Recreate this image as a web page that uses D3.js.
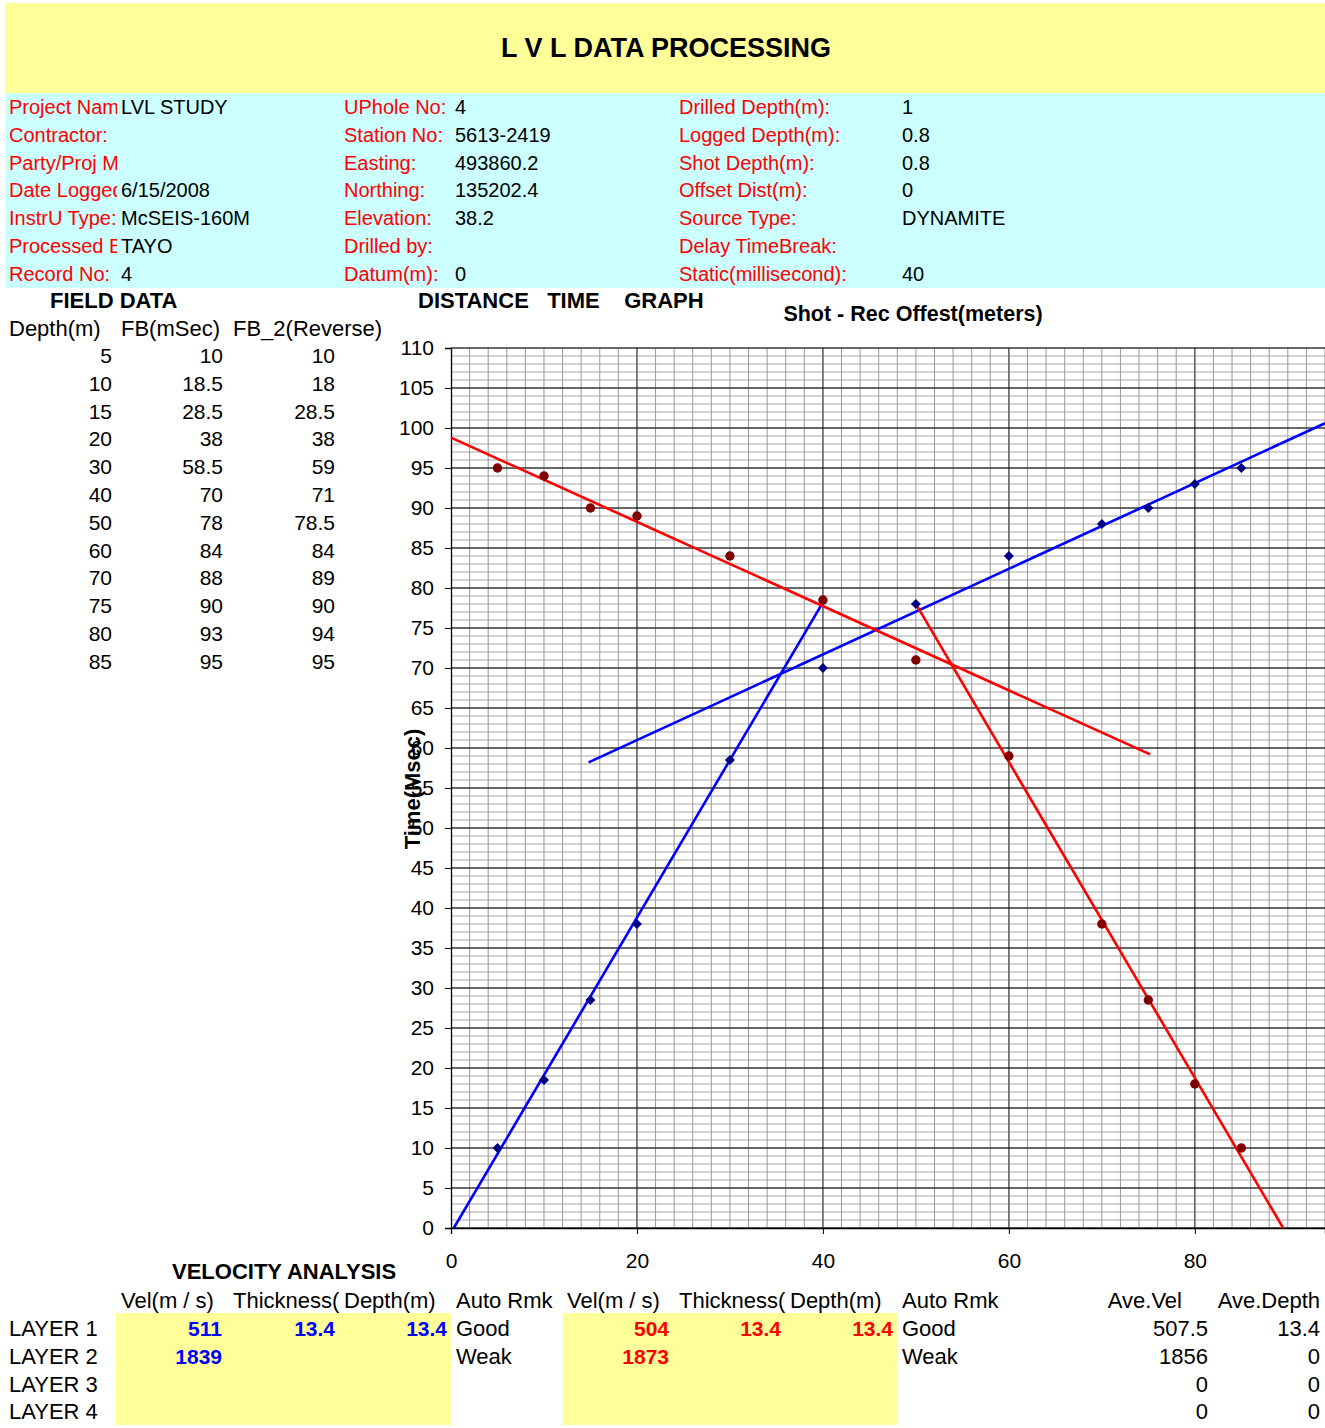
<!DOCTYPE html>
<meta charset="utf-8">
<title>L V L Data Processing</title>
<style>
  body { margin: 0; background: #fff; }
  text { font-family: "Liberation Sans", Arial, sans-serif; }
</style>
<body>
<script src="https://d3js.org/d3.v7.min.js"></script>
<div id="sheet"></div>
<script>
// ---- header info (label / value columns)
var infoLabels1 = ["Project Name:", "Contractor:", "Party/Proj Mgr:", "Date Logged:", "InstrU Type:", "Processed By:", "Record No:"];
var infoValues1 = ["LVL STUDY", "", "", "6/15/2008", "McSEIS-160M", "TAYO", "4"];
var infoLabels2 = ["UPhole No:", "Station No:", "Easting:", "Northing:", "Elevation:", "Drilled by:", "Datum(m):"];
var infoValues2 = ["4", "5613-2419", "493860.2", "135202.4", "38.2", "", "0"];
var infoLabels3 = ["Drilled Depth(m):", "Logged Depth(m):", "Shot Depth(m):", "Offset Dist(m):", "Source Type:", "Delay TimeBreak:", "Static(millisecond):"];
var infoValues3 = ["1", "0.8", "0.8", "0", "DYNAMITE", "", "40"];

// ---- field data
var depth = [5, 10, 15, 20, 30, 40, 50, 60, 70, 75, 80, 85];
var fb = [10, 18.5, 28.5, 38, 58.5, 70, 78, 84, 88, 90, 93, 95];
var fb2 = [10, 18, 28.5, 38, 59, 71, 78.5, 84, 89, 90, 94, 95];
// reverse shot offsets (spread 90 m)
var revOffset = [85, 80, 75, 70, 60, 50, 40, 30, 20, 15, 10, 5];

// ---- fitted lines [x, t]
var blueFit1 = [[0.3, 0], [40, 78.2]];
var blueFit2 = [[14.8, 58.2], [94, 100.6]];
var redFit1 = [[0, 98.8], [75.2, 59.2]];
var redFit2 = [[49.9, 78.2], [89.5, 0]];

// ---- axis ticks
var yTicks = d3.range(0, 111, 5);
var xTicks = [0, 20, 40, 60, 80];

// ---- velocity analysis
var layers = ["LAYER 1", "LAYER 2", "LAYER 3", "LAYER 4"];
var fwdVel = ["511", "1839", "", ""];
var fwdThick = ["13.4", "", "", ""];
var fwdDepth = ["13.4", "", "", ""];
var fwdRmk = ["Good", "Weak", "", ""];
var revVel = ["504", "1873", "", ""];
var revThick = ["13.4", "", "", ""];
var revDepth = ["13.4", "", "", ""];
var revRmk = ["Good", "Weak", "", ""];
var aveVel = ["507.5", "1856", "0", "0"];
var aveDepth = ["13.4", "0", "0", "0"];

var W = 1325, H = 1428, FS = 20, FL = 22;

var svg = d3.select("#sheet").append("svg")
    .attr("width", W).attr("height", H);

// bands
svg.append("rect").attr("x", 5).attr("y", 3).attr("width", W - 5).attr("height", 90).attr("fill", "#ffff99");
svg.append("rect").attr("x", 5).attr("y", 93).attr("width", W - 5).attr("height", 195).attr("fill", "#ccffff");

svg.append("text").attr("x", 666).attr("y", 57).attr("text-anchor", "middle")
  .attr("font-size", 27).attr("font-weight", "bold").text("L V L DATA PROCESSING");

// first label column is cut by the value column, as in the sheet
svg.append("defs").append("clipPath").attr("id", "lab1")
  .append("rect").attr("x", 0).attr("y", 90).attr("width", 117).attr("height", 200);

var rowY = function(i) { return 114 + i * 27.8; };
function infoCol(labels, values, lx, vx, clip) {
  var g = svg.append("g").attr("font-size", FS);
  var lg = g.append("g");
  if (clip) lg.attr("clip-path", "url(#lab1)");
  lg.selectAll("text").data(labels).enter().append("text")
    .attr("x", lx).attr("y", function(d, i) { return rowY(i); })
    .attr("fill", "#ff0000").text(function(d) { return d; });
  g.append("g").selectAll("text").data(values).enter().append("text")
    .attr("x", vx).attr("y", function(d, i) { return rowY(i); })
    .attr("fill", "#000").text(function(d) { return d; });
}
infoCol(infoLabels1, infoValues1, 9, 121, true);
infoCol(infoLabels2, infoValues2, 344, 455, false);
infoCol(infoLabels3, infoValues3, 679, 902, false);

// ---- field data table
svg.append("text").attr("x", 50).attr("y", 308).attr("font-size", FL).attr("font-weight", "bold").text("FIELD DATA");
svg.append("text").attr("x", 418).attr("y", 308).attr("font-size", FL).attr("font-weight", "bold")
  .style("white-space", "pre").text("DISTANCE   TIME    GRAPH");
var hdr = svg.append("g").attr("font-size", FL);
hdr.append("text").attr("x", 9).attr("y", 336).text("Depth(m)");
hdr.append("text").attr("x", 121).attr("y", 336).text("FB(mSec)");
hdr.append("text").attr("x", 233).attr("y", 336).text("FB_2(Reverse)");

var tbl = svg.append("g").attr("font-size", 21).attr("text-anchor", "end");
[[depth, 112], [fb, 223], [fb2, 335]].forEach(function(c) {
  tbl.append("g").selectAll("text").data(c[0]).enter().append("text")
    .attr("x", c[1]).attr("y", function(d, i) { return 363 + i * 27.8; })
    .text(function(d) { return d; });
});

// ---- graph
var x = d3.scaleLinear().domain([0, 94]).range([451, 1325]);
var y = d3.scaleLinear().domain([0, 110]).range([1228, 348]);

var grid = svg.append("g");
grid.selectAll(".hmin").data(d3.range(0, 111, 1)).enter().append("line")
  .attr("x1", x(0)).attr("x2", x(94))
  .attr("y1", function(d) { return y(d); }).attr("y2", function(d) { return y(d); })
  .attr("stroke", "#a6a6a6").attr("stroke-width", 1);
grid.selectAll(".vmin").data(d3.range(2, 95, 2)).enter().append("line")
  .attr("y1", y(0)).attr("y2", y(110))
  .attr("x1", function(d) { return x(d); }).attr("x2", function(d) { return x(d); })
  .attr("stroke", "#999").attr("stroke-width", 1);
grid.selectAll(".vmaj").data([20, 40, 60, 80]).enter().append("line")
  .attr("y1", y(0)).attr("y2", y(110))
  .attr("x1", function(d) { return x(d); }).attr("x2", function(d) { return x(d); })
  .attr("stroke", "#555").attr("stroke-width", 1.3);
grid.selectAll(".hmaj").data(yTicks).enter().append("line")
  .attr("x1", x(0)).attr("x2", x(94))
  .attr("y1", function(d) { return y(d); }).attr("y2", function(d) { return y(d); })
  .attr("stroke", "#000").attr("stroke-width", 1.2);

var yAxis = svg.append("g").attr("transform", "translate(" + x(0) + ",0)")
  .call(d3.axisLeft(y).tickValues(yTicks).tickSize(6).tickPadding(11));
var xAxis = svg.append("g").attr("transform", "translate(0," + y(0) + ")")
  .call(d3.axisBottom(x).tickValues(xTicks).tickSize(6).tickPadding(19));
[yAxis, xAxis].forEach(function(a) {
  a.selectAll("text").attr("font-size", 21).attr("fill", "#000")
    .attr("font-family", "Liberation Sans, Arial, sans-serif");
  a.selectAll("line").attr("stroke", "#000");
  a.select(".domain").attr("stroke", "#000").attr("stroke-width", 1.3);
});

svg.append("text").attr("transform", "translate(420,789) rotate(-90)")
  .attr("text-anchor", "middle").attr("font-size", FL).attr("font-weight", "bold").text("Time(Msec)");
svg.append("text").attr("x", 913).attr("y", 321).attr("text-anchor", "middle")
  .attr("font-size", 21.5).attr("font-weight", "bold").text("Shot - Rec Offest(meters)");

var line = d3.line().x(function(d) { return x(d[0]); }).y(function(d) { return y(d[1]); });
[[blueFit1, "#0000ff"], [blueFit2, "#0000ff"], [redFit1, "#ff0000"], [redFit2, "#ff0000"]].forEach(function(f) {
  svg.append("path").datum(f[0]).attr("d", line).attr("fill", "none")
    .attr("stroke", f[1]).attr("stroke-width", 2.6);
});

// forward picks (diamonds)
svg.append("g").selectAll("path").data(depth).enter().append("path")
  .attr("d", d3.symbol(d3.symbolSquare, 50))
  .attr("transform", function(d, i) { return "translate(" + x(d) + "," + y(fb[i]) + ") rotate(45)"; })
  .attr("fill", "#000080");
// reverse picks (circles)
svg.append("g").selectAll("circle").data(revOffset).enter().append("circle")
  .attr("cx", function(d) { return x(d); })
  .attr("cy", function(d, i) { return y(fb2[i]); })
  .attr("r", 4.7).attr("fill", "#800000");

// ---- velocity analysis
svg.append("rect").attr("x", 116).attr("y", 1313).attr("width", 335).attr("height", 112).attr("fill", "#ffff99");
svg.append("rect").attr("x", 563).attr("y", 1313).attr("width", 334).attr("height", 112).attr("fill", "#ffff99");
svg.append("text").attr("x", 172).attr("y", 1279).attr("font-size", FL).attr("font-weight", "bold").text("VELOCITY ANALYSIS");

var vh = svg.append("g").attr("font-size", FL);
[["Vel(m / s)", 121], ["Thickness(", 233], ["Depth(m)", 344], ["Auto Rmk", 456],
 ["Vel(m / s)", 567], ["Thickness(", 679], ["Depth(m)", 790], ["Auto Rmk", 902]].forEach(function(h) {
  vh.append("text").attr("x", h[1]).attr("y", 1308).text(h[0]);
});
vh.append("text").attr("x", 1182).attr("y", 1308).attr("text-anchor", "end").text("Ave.Vel");
vh.append("text").attr("x", 1320).attr("y", 1308).attr("text-anchor", "end").text("Ave.Depth");

var vrow = function(d, i) { return 1336 + i * 27.8; };
function vcol(arr, xpos, anchor, color, bold) {
  svg.append("g").attr("font-size", bold ? 21 : FL).selectAll("text").data(arr).enter().append("text")
    .attr("x", xpos).attr("y", vrow).attr("text-anchor", anchor)
    .attr("fill", color).attr("font-weight", bold ? "bold" : "normal")
    .text(function(d) { return d; });
}
vcol(layers, 9, "start", "#000", false);
vcol(fwdVel, 222, "end", "#0000ff", true);
vcol(fwdThick, 335, "end", "#0000ff", true);
vcol(fwdDepth, 447, "end", "#0000ff", true);
vcol(fwdRmk, 456, "start", "#000", false);
vcol(revVel, 669, "end", "#ff0000", true);
vcol(revThick, 781, "end", "#ff0000", true);
vcol(revDepth, 893, "end", "#ff0000", true);
vcol(revRmk, 902, "start", "#000", false);
vcol(aveVel, 1208, "end", "#000", false);
vcol(aveDepth, 1320, "end", "#000", false);
</script>
</body>
